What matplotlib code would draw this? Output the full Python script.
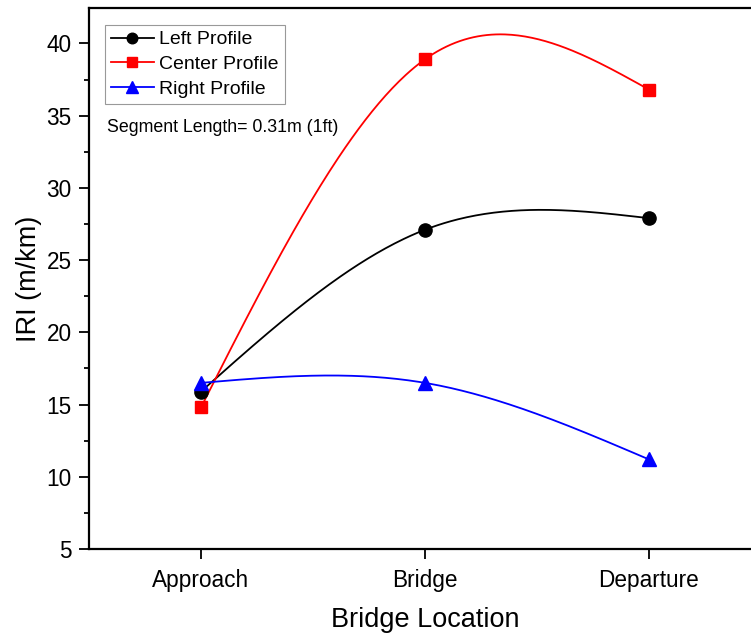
import numpy as np
import matplotlib
matplotlib.use("Agg")
import matplotlib.pyplot as plt
from matplotlib.ticker import MultipleLocator

plt.rcParams['font.family'] = ['Liberation Sans', 'DejaVu Sans']

# IRI per profile at each bridge location
locations = ["Approach", "Bridge", "Departure"]
left_profile = [15.9, 27.1, 27.9]
center_profile = [14.8, 38.9, 36.8]
right_profile = [16.5, 16.5, 11.2]


def natural_spline(x, y, n=200):
    # natural cubic spline through the points, sampled on a fine grid
    x = np.asarray(x, float)
    y = np.asarray(y, float)
    k = len(x)
    h = np.diff(x)
    A = np.zeros((k, k))
    r = np.zeros(k)
    A[0, 0] = A[-1, -1] = 1
    for i in range(1, k - 1):
        A[i, i - 1] = h[i - 1]
        A[i, i] = 2 * (h[i - 1] + h[i])
        A[i, i + 1] = h[i]
        r[i] = 6 * ((y[i + 1] - y[i]) / h[i] - (y[i] - y[i - 1]) / h[i - 1])
    M = np.linalg.solve(A, r)
    xs = np.linspace(x[0], x[-1], n)
    j = np.clip(np.searchsorted(x, xs) - 1, 0, k - 2)
    a = x[j + 1] - xs
    b = xs - x[j]
    hj = h[j]
    ys = (M[j] * a ** 3 / (6 * hj) + M[j + 1] * b ** 3 / (6 * hj)
          + (y[j] / hj - M[j] * hj / 6) * a + (y[j + 1] / hj - M[j + 1] * hj / 6) * b)
    return xs, ys


fig = plt.figure(figsize=(7.51, 6.34), dpi=100)
# the frame runs a little past the right edge of the canvas
ax = fig.add_axes([89 / 751, 1 - 549 / 634, (761 - 89) / 751, (549 - 8) / 634])

xpos = np.arange(len(locations))
series = [
    ("Left Profile", left_profile, "black", "o", 9.5),
    ("Center Profile", center_profile, "#ff0000", "s", 9.3),
    ("Right Profile", right_profile, "#0000ff", "^", 10.5),
]
for name, vals, col, mk, ms in series:
    xs, ys = natural_spline(xpos, vals)
    ax.plot(xs, ys, color=col, lw=1.3, zorder=2)
    ax.plot(xpos, vals, ls="none", marker=mk, ms=ms, color=col, zorder=3)
    ax.plot([], [], color=col, lw=1.3, marker=mk, ms=ms * 0.8, label=name)

ax.set_xlim(-0.5, 2.5)
ax.set_ylim(5, 42.45)
ax.set_xticks(xpos)
ax.set_xticklabels(locations)
ax.yaxis.set_major_locator(MultipleLocator(5))
ax.yaxis.set_minor_locator(MultipleLocator(2.5))

ax.tick_params(axis="both", which="major", direction="out", length=7.5, width=1.3,
               labelsize=16.3, pad=5)
ax.tick_params(axis="x", pad=7)
ax.tick_params(axis="y", which="minor", direction="out", length=3.5, width=1.3)
ax.tick_params(axis="x", which="minor", bottom=False)

for side in ("left", "bottom", "top"):
    ax.spines[side].set_linewidth(1.6)
ax.spines["right"].set_visible(False)

ax.set_xlabel("Bridge Location", fontsize=19.5, labelpad=11)
ax.set_ylabel("IRI (m/km)", fontsize=19.5, labelpad=3)

leg = ax.legend(loc="upper left", bbox_to_anchor=(105 / 751, 1 - 25 / 634),
                bbox_transform=fig.transFigure, borderaxespad=0, fontsize=14,
                fancybox=False, edgecolor="#999999", framealpha=1,
                handlelength=2.2, handletextpad=0.3, labelspacing=0.36,
                borderpad=0.3)
leg.get_frame().set_linewidth(0.8)

fig.text(107 / 751, 1 - 127 / 634, "Segment Length= 0.31m (1ft)", fontsize=12.8,
         va="center", ha="left")

fig.savefig("out.png", dpi=100)
